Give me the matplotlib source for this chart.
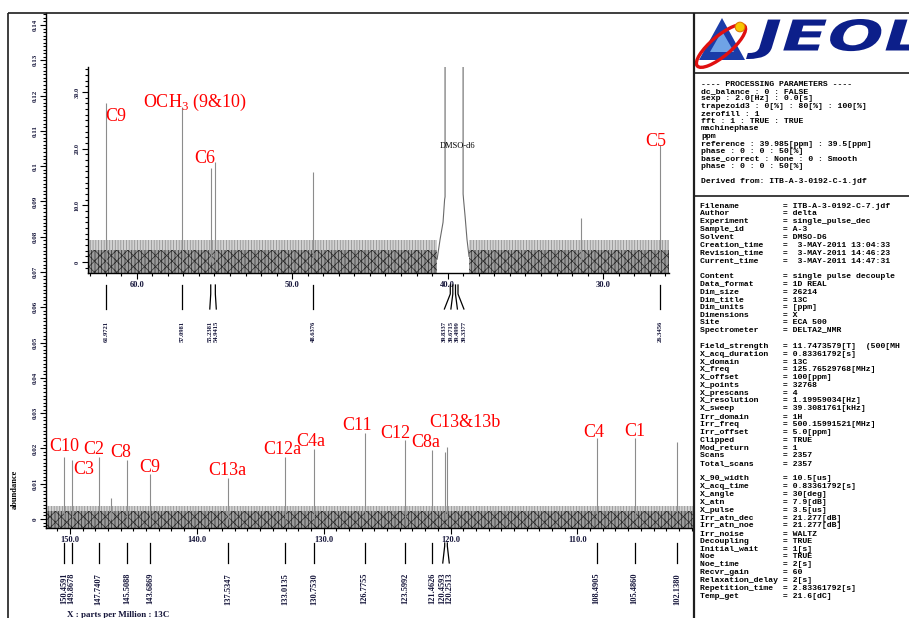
import numpy as np
import matplotlib
matplotlib.use('Agg')
import matplotlib.pyplot as plt
import matplotlib.transforms as mtransforms
from matplotlib.ticker import MultipleLocator, FuncFormatter
from matplotlib.lines import Line2D
from matplotlib.textpath import TextPath
from matplotlib.patches import PathPatch, Polygon, Ellipse, Circle
from matplotlib.font_manager import FontProperties

W, H = 909, 618
SERIF = 'Liberation Serif'
MONO = 'Liberation Mono'
NAVY = '#15153a'
plt.rcParams['mathtext.fontset'] = 'custom'
plt.rcParams['mathtext.rm'] = SERIF
plt.rcParams['hatch.linewidth'] = 0.5

# ---- upper (inset) spectrum, 25-63 ppm ----
up_peak_ppm = [61.9721, 57.0981, 55.2381, 54.9415, 48.6376, 31.43, 26.3456]
up_peak_int = [28.0, 27.3, 16.6, 17.6, 15.9, 7.8, 20.6]
dmso_ppm = [40.68, 40.49, 40.30, 40.20, 40.17, 40.17, 39.01, 39.01, 38.98, 38.88, 38.76, 38.63]
dmso_int = [0.5, 4.0, 7.0, 11.0, 11.5, 50.0, 50.0, 12.0, 11.0, 8.0, 4.0, 1.0]
up_list_ppm = [61.9721, 57.0981, 55.2381, 54.9415, 48.6376,
               39.8337, 39.6715, 39.4999, 39.3377, 26.3456]
up_names = ['C9', 'OCH$_\\mathrm{3}$ (9&10)', 'C6', 'C5']
up_name_ppm = [62.04, 59.59, 56.31, 27.31]
up_name_int = [24.9, 27.4, 17.5, 20.5]
up_noise = (-2.0, 3.8, 2.2)

# ---- lower spectrum, 101-152 ppm ----
lo_peak_ppm = [150.4591, 149.8678, 147.7407, 146.76, 145.5088, 143.6869, 137.5347,
               133.0135, 130.7530, 126.7755, 123.5992, 121.4626, 120.4593, 120.2513,
               108.4905, 105.4860, 102.1380]
lo_peak_int = [0.0176, 0.0167, 0.0176, 0.006, 0.0167, 0.0128, 0.0116,
               0.0176, 0.0198, 0.0244, 0.0224, 0.0196, 0.0190, 0.0204,
               0.0230, 0.0230, 0.0218]
lo_list_ppm = [150.4591, 149.8678, 147.7407, 145.5088, 143.6869, 137.5347,
               133.0135, 130.7530, 126.7755, 123.5992, 121.4626, 120.4593, 120.2513,
               108.4905, 105.4860, 102.1380]
lo_names = ['C10', 'C3', 'C2', 'C8', 'C9', 'C13a', 'C12a', 'C4a', 'C11', 'C12',
            'C8a', 'C13&13b', 'C4', 'C1']
lo_name_ppm = [151.64, 149.75, 148.96, 146.83, 144.55, 139.11, 134.78, 132.17,
               128.55, 125.56, 123.11, 121.70, 109.56, 106.33]
lo_name_int = [0.0192, 0.0127, 0.0184, 0.0175, 0.0133, 0.0124, 0.0184, 0.0206,
               0.0252, 0.0229, 0.0204, 0.0260, 0.0232, 0.0235]
lo_noise = (-0.003, 0.0038, 0.0022)

proc_lines = ['---- PROCESSING PARAMETERS ----',
              'dc_balance : 0 : FALSE',
              'sexp : 2.0[Hz] : 0.0[s]',
              'trapezoid3 : 0[%] : 80[%] : 100[%]',
              'zerofill : 1',
              'fft : 1 : TRUE : TRUE',
              'machinephase',
              'ppm',
              'reference : 39.985[ppm] : 39.5[ppm]',
              'phase : 0 : 0 : 50[%]',
              'base_correct : None : 0 : Smooth',
              'phase : 0 : 0 : 50[%]',
              '',
              'Derived from: ITB-A-3-0192-C-1.jdf']

params = [('Filename', 'ITB-A-3-0192-C-7.jdf'), ('Author', 'delta'),
          ('Experiment', 'single_pulse_dec'), ('Sample_id', 'A-3'),
          ('Solvent', 'DMSO-D6'), ('Creation_time', ' 3-MAY-2011 13:04:33'),
          ('Revision_time', ' 3-MAY-2011 14:46:23'), ('Current_time', ' 3-MAY-2011 14:47:31'),
          None,
          ('Content', 'single pulse decouple'), ('Data_format', '1D REAL'),
          ('Dim_size', '26214'), ('Dim_title', '13C'), ('Dim_units', '[ppm]'),
          ('Dimensions', 'X'), ('Site', 'ECA 500'), ('Spectrometer', 'DELTA2_NMR'),
          None,
          ('Field_strength', '11.7473579[T]  (500[MH'), ('X_acq_duration', '0.83361792[s]'),
          ('X_domain', '13C'), ('X_freq', '125.76529768[MHz]'), ('X_offset', '100[ppm]'),
          ('X_points', '32768'), ('X_prescans', '4'), ('X_resolution', '1.19959034[Hz]'),
          ('X_sweep', '39.3081761[kHz]'), ('Irr_domain', '1H'),
          ('Irr_freq', '500.15991521[MHz]'), ('Irr_offset', '5.0[ppm]'),
          ('Clipped', 'TRUE'), ('Mod_return', '1'), ('Scans', '2357'),
          ('Total_scans', '2357'),
          None,
          ('X_90_width', '10.5[us]'), ('X_acq_time', '0.83361792[s]'),
          ('X_angle', '30[deg]'), ('X_atn', '7.9[dB]'), ('X_pulse', '3.5[us]'),
          ('Irr_atn_dec', '21.277[dB]'), ('Irr_atn_noe', '21.277[dB]'),
          ('Irr_noise', 'WALTZ'), ('Decoupling', 'TRUE'), ('Initial_wait', '1[s]'),
          ('Noe', 'TRUE'), ('Noe_time', '2[s]'), ('Recvr_gain', '60'),
          ('Relaxation_delay', '2[s]'), ('Repetition_time', '2.83361792[s]'),
          ('Temp_get', '21.6[dC]')]


def box(x0, y0, x1, y1):
    return [x0 / W, 1 - y1 / H, (x1 - x0) / W, (y1 - y0) / H]


fig = plt.figure(figsize=(W / 100, H / 100), dpi=100)
ax = fig.add_axes(box(46, 13, 693, 528))
ins = fig.add_axes(box(88, 67, 669, 273))
ins.patch.set_visible(False)
lax = fig.add_axes([0, 0, 1, 1])
lax.axis('off')

ax.set_xlim(151.88, 100.89)
ax.set_ylim(-0.00255, 0.1434)
ins.set_xlim(63.13, 25.77)
ins.set_ylim(-1.94, 34.4)


def style(a, ymaj, ymin, yfmt, ysize):
    for s in ('top', 'right'):
        a.spines[s].set_visible(False)
    for s in ('left', 'bottom'):
        a.spines[s].set_linewidth(1.0)
    a.xaxis.set_major_locator(MultipleLocator(10))
    a.xaxis.set_minor_locator(MultipleLocator(1))
    a.yaxis.set_major_locator(MultipleLocator(ymaj))
    a.yaxis.set_minor_locator(MultipleLocator(ymin))
    a.xaxis.set_major_formatter(FuncFormatter(lambda v, p: f'{v:.1f}'))
    a.yaxis.set_major_formatter(FuncFormatter(yfmt))
    a.tick_params(which='both', direction='out', width=0.8, color='black')
    a.tick_params(which='major', length=4)
    a.tick_params(which='minor', length=2.5)
    a.tick_params(axis='x', pad=1.5, labelsize=6, labelcolor=NAVY)
    a.tick_params(axis='y', pad=2, labelsize=ysize, labelcolor=NAVY, labelrotation=90)
    for lbl in a.get_xticklabels() + a.get_yticklabels():
        lbl.set_fontfamily(SERIF)
        lbl.set_fontweight('bold')
    for lbl in a.get_yticklabels():
        lbl.set_verticalalignment('center')


style(ax, 0.01, 0.001, lambda v, p: '0' if abs(v) < 1e-9 else f'{v:g}', 5)
style(ins, 10, 1, lambda v, p: '0' if abs(v) < 1e-9 else f'{v:.1f}', 4.5)


def noise(a, x0, x1, lev):
    # baseline noise shown as a textured band between its lower and upper level
    lo, hi, core = lev
    a.fill_between([x0, x1], lo, hi, facecolor='#d2d2d2', edgecolor='#8a8a8a',
                   hatch='||||||', linewidth=0, zorder=1)
    a.fill_between([x0, x1], lo, core, facecolor='#9c9c9c', edgecolor='#2e2e2e',
                   hatch='|||||xxx', linewidth=0, zorder=2)


# spectra
noise(ax, *ax.get_xlim(), lo_noise)
ax.vlines(lo_peak_ppm, 0, lo_peak_int, color='#8c8c8c', lw=0.8, zorder=3)
noise(ins, ins.get_xlim()[0], dmso_ppm[0], up_noise)
noise(ins, dmso_ppm[-1], ins.get_xlim()[1], up_noise)
ins.vlines(up_peak_ppm, 0, up_peak_int, color='#8c8c8c', lw=0.8, zorder=3)
ins.plot(dmso_ppm, dmso_int, color='#6a6a6a', lw=0.8, zorder=3)
ins.text(39.34, 20.5, 'DMSO-d6', fontsize=6, family=SERIF, ha='center', va='center')

for n, x, y in zip(lo_names, lo_name_ppm, lo_name_int):
    ax.text(x, y, n, color='red', fontsize=13, family=SERIF, ha='left', va='baseline', zorder=4)
for n, x, y in zip(up_names, up_name_ppm, up_name_int):
    ins.text(x, y, n, color='red', fontsize=13, family=SERIF, ha='left', va='baseline', zorder=4)


def spread(vals, gap):
    groups = [[v] for v in vals]

    def lay(g):
        c = sum(g) / len(g)
        return [c + ((len(g) - 1) / 2 - k) * gap for k in range(len(g))]
    again = True
    while again:
        again = False
        for i in range(len(groups) - 1):
            if lay(groups[i])[-1] - lay(groups[i + 1])[0] < gap - 1e-9:
                groups[i] = groups[i] + groups.pop(i + 1)
                again = True
                break
    out = []
    for g in groups:
        out += lay(g)
    return out


def peak_list(a, ppms, ys, size, gap_px=6.5):
    y_top, y_mid, y_bot, y_lab = ys
    x0, x1 = a.get_xlim()
    ppp = a.get_position().width * W / abs(x0 - x1)
    ppms = sorted(ppms, reverse=True)
    labs = spread(ppms, gap_px / ppp)
    tr = mtransforms.blended_transform_factory(a.transData, lax.transData)
    for p, l in zip(ppms, labs):
        lax.add_line(Line2D([p, p, l], [y_top, y_mid, y_bot], color='black',
                            lw=0.9, transform=tr))
        lax.text(l, y_lab, f'{p:.4f}', transform=tr, rotation=90, ha='center',
                 va='top', fontsize=size, family=SERIF, weight='bold', color=NAVY)


peak_list(ins, up_list_ppm, (285, 294, 309, 321), 4.7)
peak_list(ax, lo_list_ppm, (543, 546, 563, 573), 6)

# frame and right panel
for xs, ys, lw in [([8, W], [13, 13], 1.2), ([8, 8], [13, H], 1.2),
                   ([694, 694], [13, H], 1.6), ([694, W], [73, 73], 1.2),
                   ([694, W], [196, 196], 1.2)]:
    lax.plot(xs, ys, color='#1e1e1e', lw=lw, solid_capstyle='butt')

lax.text(15, 489, 'abundance', rotation=90, ha='center', va='center',
         fontsize=6, family=SERIF, weight='bold')
lax.text(67, 611, 'X : parts per Million : 13C', ha='left', va='top',
         fontsize=6.5, family=SERIF, weight='bold', color=NAVY)

# JEOL logo
tp = TextPath((0, 0), 'JEOL', size=1, prop=FontProperties(family='DejaVu Sans', weight='bold'))
bb = tp.get_extents()
sx = (930 - 746) / (bb.width + 0.2 * bb.height)
sy = (59 - 19) / bb.height
tr = (mtransforms.Affine2D().translate(-bb.x0, -bb.y0).skew_deg(11, 0)
      .scale(sx, -sy).translate(746, 59))
lax.add_patch(PathPatch(tr.transform_path(tp), facecolor='#0c1f8a', edgecolor='none'))
lax.add_patch(Polygon([(699, 60), (722, 18), (745, 60)], closed=True, facecolor='#1b3ca8'))
lax.add_patch(Polygon([(710, 52), (722, 31), (734, 52)], closed=True, facecolor='#6fa3e6'))
lax.add_patch(Ellipse((721, 46), 62, 20, angle=-40, facecolor='none',
                      edgecolor='#e01010', lw=2.4))
lax.add_patch(Circle((740, 27), 4.8, facecolor='#f7c600', edgecolor='#e08000', lw=0.8))

for i, s in enumerate(proc_lines):
    lax.text(701, 84 + i * 7.5, s, ha='left', va='center', fontsize=5.9,
             family=MONO, weight='bold')
for i, row in enumerate(params):
    if row is None:
        continue
    lax.text(700, 206 + i * 7.8, row[0].ljust(17) + '= ' + row[1], ha='left',
             va='center', fontsize=5.9, family=MONO, weight='bold')

lax.set_xlim(0, W)
lax.set_ylim(H, 0)

fig.savefig('out.png', dpi=100)
